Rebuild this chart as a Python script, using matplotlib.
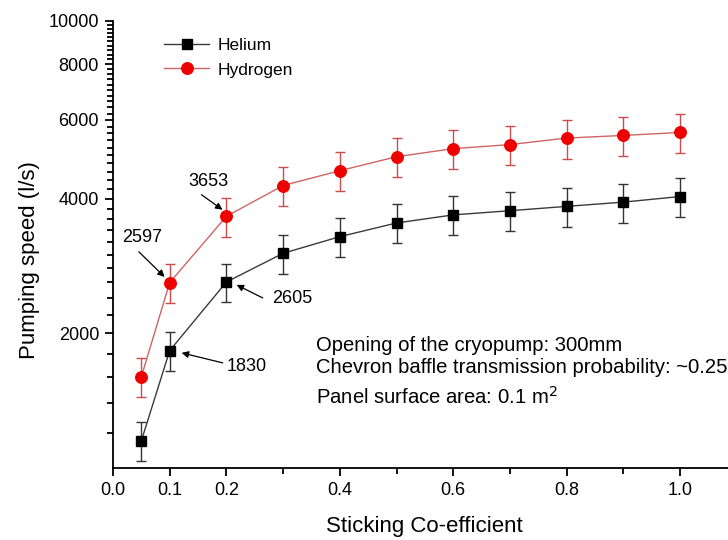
import matplotlib
matplotlib.use("Agg")
import matplotlib.pyplot as plt
from matplotlib.lines import Line2D
from matplotlib.ticker import NullFormatter

plt.rcParams['font.family'] = ['Liberation Sans', 'DejaVu Sans']

sticking = [0.05, 0.1, 0.2, 0.3, 0.4, 0.5, 0.6, 0.7, 0.8, 0.9, 1.0]
helium = [1150, 1830, 2605, 3020, 3290, 3530, 3680, 3760, 3845, 3930, 4045]
helium_err = [115, 183, 260, 302, 329, 353, 368, 376, 385, 393, 405]
hydrogen = [1600, 2597, 3653, 4280, 4620, 4965, 5175, 5285, 5465, 5540, 5625]
hydrogen_err = [160, 260, 365, 428, 462, 497, 518, 529, 547, 554, 563]

y_major = [2000, 4000, 6000, 8000, 10000]
y_major_labels = ['2000', '4000', '6000', '8000', '10000']
y_minor = [float(v) for v in range(1200, 10000, 200) if v not in y_major]
x_major = [0.0, 0.1, 0.2, 0.4, 0.6, 0.8, 1.0]
x_major_labels = ['0.0', '0.1', '0.2', '0.4', '0.6', '0.8', '1.0']
x_minor = [0.3, 0.5, 0.7, 0.9]

he_color = '#3a3a3a'
h2_line = '#d06464'
h2_face = '#ee0000'

fig = plt.figure(figsize=(7.28, 5.4), dpi=100)
ax = fig.add_axes([113 / 728, 1 - 468 / 540, (728 - 113) / 728, (468 - 20.7) / 540])

ax.errorbar(sticking, helium, yerr=helium_err, color=he_color, lw=1.0,
            marker='s', markersize=7.3, markerfacecolor='black', markeredgecolor='black',
            ecolor='#333333', elinewidth=1.0, capsize=3.6, capthick=1.0, zorder=3)
ax.errorbar(sticking, hydrogen, yerr=hydrogen_err, color=h2_line, lw=1.0,
            marker='o', markersize=8.3, markerfacecolor=h2_face, markeredgecolor=h2_face,
            ecolor='#cc4b4b', elinewidth=1.0, capsize=3.6, capthick=1.0, zorder=3)

ax.set_yscale('log')
ax.set_ylim(1000, 10000)
ax.set_xlim(0, 615 / 567)
ax.set_yticks(y_major)
ax.set_yticklabels(y_major_labels)
ax.set_yticks(y_minor, minor=True)
ax.yaxis.set_minor_formatter(NullFormatter())
ax.set_xticks(x_major)
ax.set_xticklabels(x_major_labels)
ax.set_xticks(x_minor, minor=True)

for s in ['top', 'right']:
    ax.spines[s].set_visible(False)
for s in ['left', 'bottom']:
    ax.spines[s].set_linewidth(1.3)
ax.tick_params(which='major', direction='out', length=6, width=1.3, labelsize=13, pad=4)
ax.tick_params(which='minor', direction='out', length=4, width=1.3)

ax.set_ylabel('Pumping speed (l/s)', fontsize=16)
ax.yaxis.set_label_coords(-0.118, 0.465)
ax.set_xlabel('Sticking Co-efficient', fontsize=16)
ax.xaxis.set_label_coords(0.507, -0.108)

handles = [
    Line2D([], [], color=he_color, lw=1.0, marker='s', markersize=7,
           markerfacecolor='black', markeredgecolor='black'),
    Line2D([], [], color=h2_line, lw=1.0, marker='o', markersize=8.3,
           markerfacecolor=h2_face, markeredgecolor=h2_face),
]
ax.legend(handles, ['Helium', 'Hydrogen'], loc='upper left',
          bbox_to_anchor=(0.058, 0.997), frameon=False, fontsize=12.5,
          handlelength=2.6, labelspacing=0.55, handletextpad=0.45)

arrow = dict(arrowstyle='-|>', color='black', lw=0.9, mutation_scale=10,
             shrinkA=0, shrinkB=0)
ann_fs = 13
ax.text(0.052, 3270, '2597', fontsize=ann_fs, ha='center', va='center')
ax.annotate('', xy=(0.091, 2674), xytext=(0.0455, 3044), arrowprops=arrow)
ax.text(0.168, 4365, '3653', fontsize=ann_fs, ha='center', va='center')
ax.annotate('', xy=(0.193, 3779), xytext=(0.156, 4083), arrowprops=arrow)
ax.text(0.317, 2390, '2605', fontsize=ann_fs, ha='center', va='center')
ax.annotate('', xy=(0.218, 2567), xytext=(0.264, 2400), arrowprops=arrow)
ax.text(0.235, 1682, '1830', fontsize=ann_fs, ha='center', va='center')
ax.annotate('', xy=(0.121, 1809), xytext=(0.1935, 1718), arrowprops=arrow)

box_fs = 14.6
ax.text(0.3575, 1883, 'Opening of the cryopump: 300mm', fontsize=box_fs, va='center')
ax.text(0.3575, 1674, 'Chevron baffle transmission probability: ~0.25', fontsize=box_fs,
        va='center', clip_on=False)
ax.text(0.3575, 1441, 'Panel surface area: 0.1 m$^2$', fontsize=box_fs, va='center')

fig.savefig('out.png', dpi=100)
